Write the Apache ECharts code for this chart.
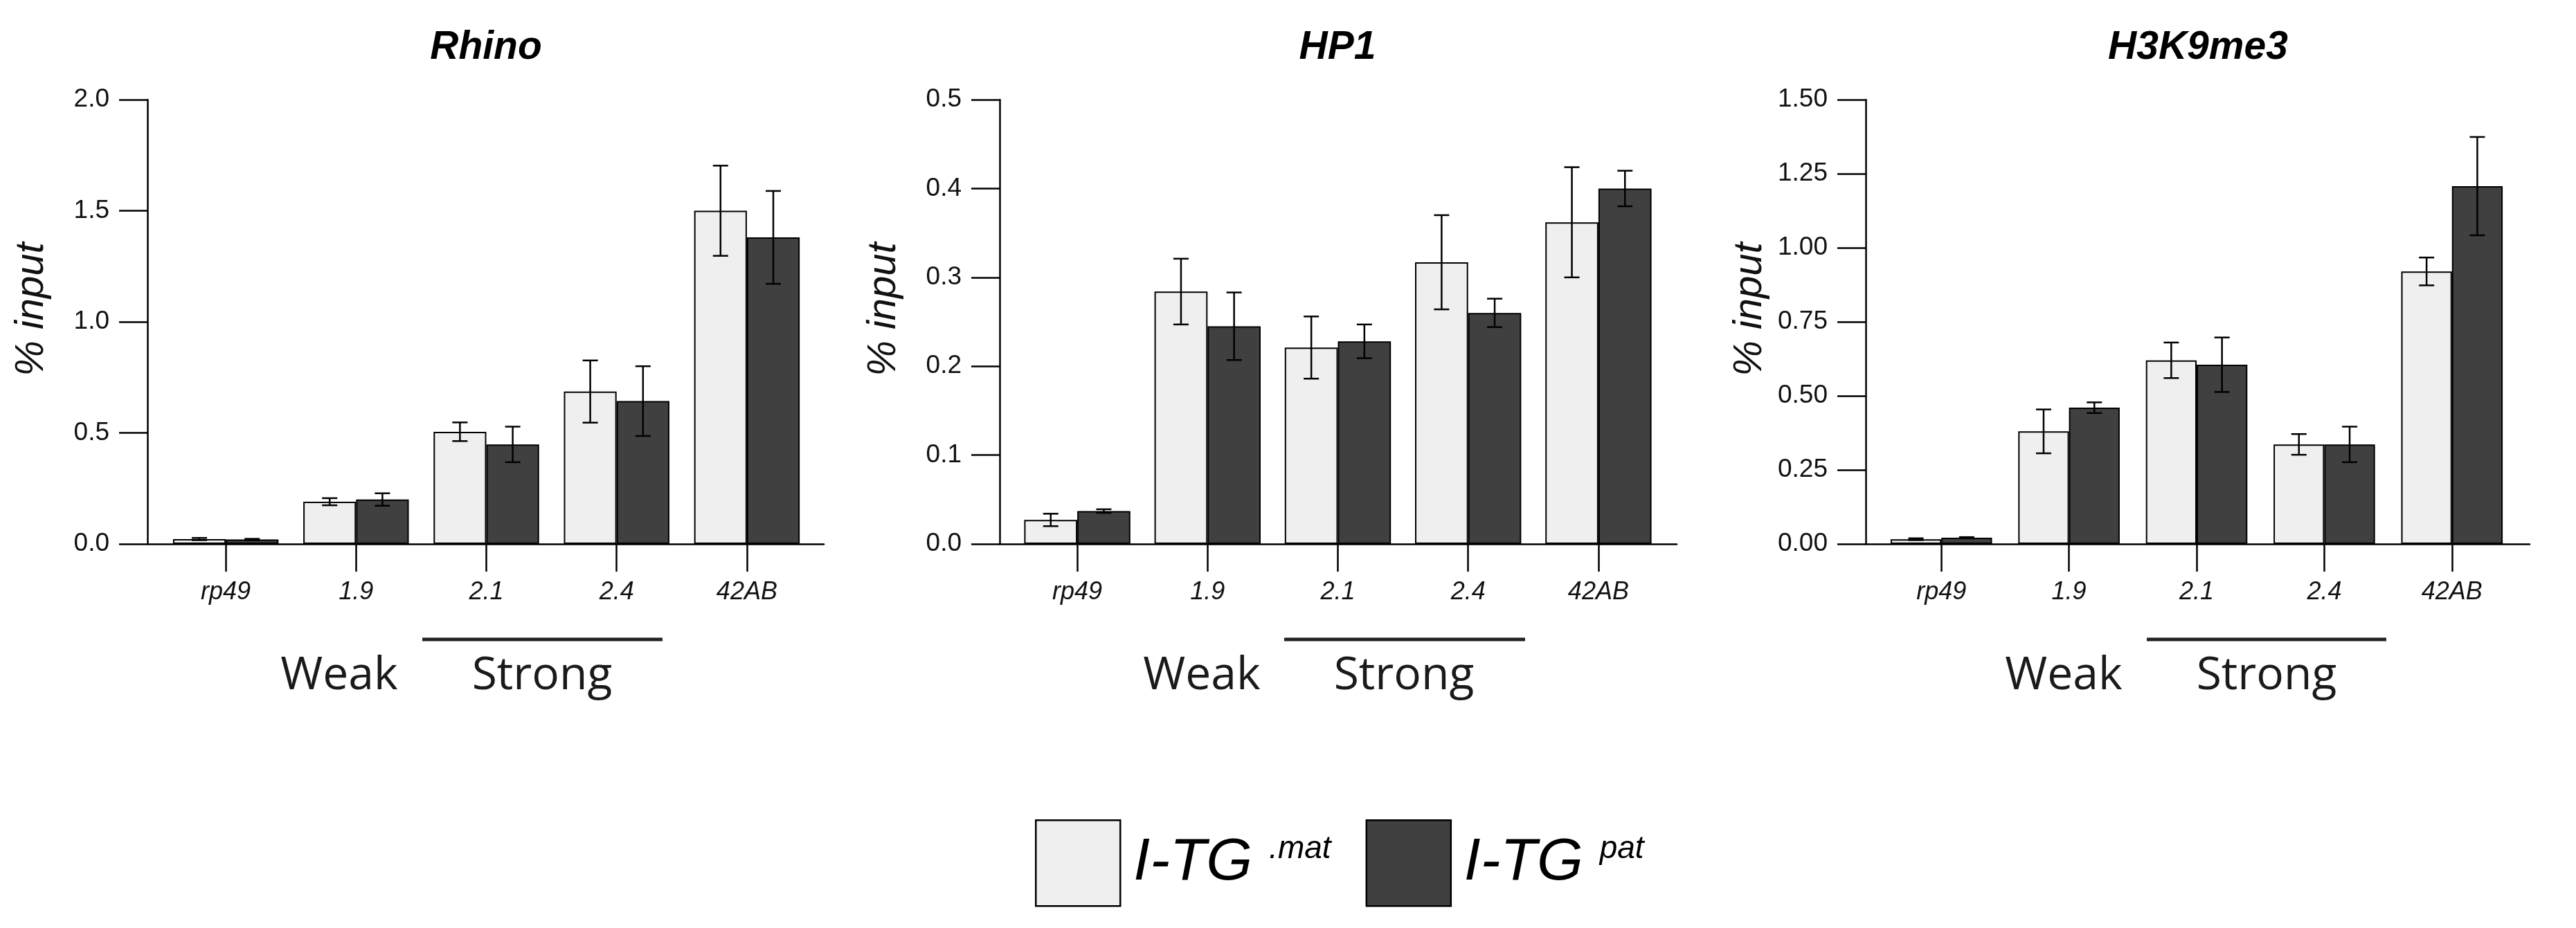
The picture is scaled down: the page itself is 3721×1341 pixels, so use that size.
<!DOCTYPE html>
<html>
<head>
<meta charset="utf-8">
<script src="https://cdn.jsdelivr.net/npm/echarts@6/dist/echarts.min.js"></script>
<style>
html, body { margin: 0; padding: 0; background: #fff; }
#main { width: 3721px; height: 1341px; }
</style>
</head>
<body>
<div id="main"></div>
<script>
// loci on the x axis
var categories = ['rp49', '1.9', '2.1', '2.4', '42AB'];

// Rhino ChIP
var rhinoMat = [0.022, 0.19, 0.505, 0.686, 1.50];
var rhinoMatErr = [0.005, 0.016, 0.042, 0.14, 0.203];
var rhinoPat = [0.020, 0.20, 0.448, 0.643, 1.38];
var rhinoPatErr = [0.003, 0.028, 0.08, 0.157, 0.209];

// HP1 ChIP
var hp1Mat = [0.027, 0.284, 0.221, 0.317, 0.362];
var hp1MatErr = [0.007, 0.037, 0.035, 0.053, 0.062];
var hp1Pat = [0.037, 0.245, 0.228, 0.260, 0.400];
var hp1PatErr = [0.002, 0.038, 0.019, 0.016, 0.020];

// H3K9me3 ChIP
var h3Mat = [0.016, 0.38, 0.62, 0.336, 0.92];
var h3MatErr = [0.003, 0.074, 0.06, 0.035, 0.047];
var h3Pat = [0.021, 0.46, 0.605, 0.336, 1.208];
var h3PatErr = [0.002, 0.018, 0.092, 0.06, 0.166];

var panelTitles = ['Rhino', 'HP1', 'H3K9me3'];
var yMax = [2.0, 0.5, 1.5];
var yStep = [0.5, 0.1, 0.25];
var yDigits = [1, 1, 2];

var MAT = '#efefef', PAT = '#404040', INK = '#111';
var FONT = 'Liberation Sans';

// pixel layout of each panel
var frames = [
    {left: 213, right: 1190, barLeft: 232, barRight: 1173, gap: 0.19, title: 702, weak: 490, strong: 783, line: [610, 957]},
    {left: 1444, right: 2422, barLeft: 1462, barRight: 2403, gap: 0.185, title: 1932, weak: 1736, strong: 2028, line: [1855, 2203]},
    {left: 2695, right: 3654, barLeft: 2712, barRight: 3634, gap: 0.205, title: 3175, weak: 2981, strong: 3274, line: [3101, 3447]}
];
var TOP = 144, BOTTOM = 786;

var panels = [
    [rhinoMat, rhinoMatErr, rhinoPat, rhinoPatErr],
    [hp1Mat, hp1MatErr, hp1Pat, hp1PatErr],
    [h3Mat, h3MatErr, h3Pat, h3PatErr]
];

var grid = [], xAxis = [], yAxis = [], series = [], graphic = [];

function errorBars(p, vals, errs, side, gap) {
    return {
        type: 'custom',
        name: 'err' + p + side,
        xAxisIndex: 2 * p + 1,
        yAxisIndex: 2 * p + 1,
        silent: true,
        z: 5,
        data: vals.map(function (v, i) { return [i, v - errs[i], v + errs[i]]; }),
        renderItem: function (params, api) {
            var band = api.size([1, 0])[0];
            var bw = band * (1 - gap) / 2;
            var lo = api.coord([api.value(0), api.value(1)]);
            var hi = api.coord([api.value(0), api.value(2)]);
            var x = lo[0] + (side === 0 ? -bw / 2 : bw / 2);
            var c = 11;
            var st = {stroke: '#000', lineWidth: 2.5};
            return {
                type: 'group',
                children: [
                    {type: 'line', shape: {x1: x, y1: lo[1], x2: x, y2: hi[1]}, style: st},
                    {type: 'line', shape: {x1: x - c, y1: hi[1], x2: x + c, y2: hi[1]}, style: st},
                    {type: 'line', shape: {x1: x - c, y1: lo[1], x2: x + c, y2: lo[1]}, style: st}
                ]
            };
        }
    };
}

frames.forEach(function (f, p) {
    // frame grid: y axis with ticks and the long baseline
    grid.push({left: f.left, width: f.right - f.left, top: TOP, height: BOTTOM - TOP});
    // bar grid
    grid.push({left: f.barLeft, width: f.barRight - f.barLeft, top: TOP, height: BOTTOM - TOP});

    xAxis.push({
        type: 'value', gridIndex: 2 * p, min: 0, max: 1,
        axisLine: {show: true, lineStyle: {color: '#000', width: 2.5}},
        axisTick: {show: false}, axisLabel: {show: false}, splitLine: {show: false}
    });
    xAxis.push({
        type: 'category', gridIndex: 2 * p + 1, data: categories,
        axisLine: {show: false},
        axisTick: {show: true, alignWithLabel: true, length: 40, lineStyle: {color: '#000', width: 2.5}},
        axisLabel: {fontFamily: FONT, fontStyle: 'italic', fontSize: 36, color: INK, margin: 52}
    });
    yAxis.push({
        type: 'value', gridIndex: 2 * p, min: 0, max: yMax[p], interval: yStep[p],
        axisLine: {show: true, lineStyle: {color: '#000', width: 2.5}},
        axisTick: {show: true, length: 41, lineStyle: {color: '#000', width: 2.5}},
        axisLabel: {
            fontFamily: FONT, fontSize: 37, color: INK, margin: 55,
            formatter: (function (d) { return function (v) { return v.toFixed(d); }; })(yDigits[p])
        },
        splitLine: {show: false},
        name: '% input', nameLocation: 'middle', nameGap: 138,
        nameTextStyle: {fontFamily: FONT, fontStyle: 'italic', fontSize: 58, color: INK, padding: [0, 0, 0, 36]}
    });
    yAxis.push({type: 'value', gridIndex: 2 * p + 1, min: 0, max: yMax[p], show: false});

    var d = panels[p];
    series.push({
        type: 'bar', name: 'mat', xAxisIndex: 2 * p + 1, yAxisIndex: 2 * p + 1,
        data: d[0], barGap: '0%', barCategoryGap: (f.gap * 100) + '%',
        itemStyle: {color: MAT, borderColor: '#000', borderWidth: 2}
    });
    series.push({
        type: 'bar', name: 'pat', xAxisIndex: 2 * p + 1, yAxisIndex: 2 * p + 1,
        data: d[2], barGap: '0%', barCategoryGap: (f.gap * 100) + '%',
        itemStyle: {color: PAT, borderColor: '#000', borderWidth: 2}
    });
    series.push(errorBars(p, d[0], d[1], 0, f.gap));
    series.push(errorBars(p, d[2], d[3], 1, f.gap));

    graphic.push({
        type: 'text', x: f.title, y: 69,
        style: {text: panelTitles[p], font: 'italic bold 57px "Liberation Sans"', fill: '#000',
                textAlign: 'center', textVerticalAlign: 'middle'}
    });
    graphic.push({
        type: 'text', x: f.weak, y: 977,
        style: {text: 'Weak', font: '66px "Open Sans"', fill: '#1a1a1a',
                textAlign: 'center', textVerticalAlign: 'middle'}
    });
    graphic.push({
        type: 'text', x: f.strong, y: 977,
        style: {text: 'Strong', font: '66px "Open Sans"', fill: '#1a1a1a',
                textAlign: 'center', textVerticalAlign: 'middle'}
    });
    graphic.push({
        type: 'line', shape: {x1: f.line[0], y1: 924, x2: f.line[1], y2: 924},
        style: {stroke: '#222', lineWidth: 5}
    });
});

var option = {
    backgroundColor: '#fff',
    animation: false,
    grid: grid,
    xAxis: xAxis,
    yAxis: yAxis,
    legend: {
        data: ['mat', 'pat'],
        left: 1490, top: 1179,
        icon: 'rect',
        itemWidth: 122, itemHeight: 124, itemGap: 50,
        itemStyle: {borderColor: '#000', borderWidth: 2.5},
        formatter: function (name) {
            return name === 'mat' ? '{a|I-TG }{s|.mat}' : '{a|I-TG }{s|pat}';
        },
        textStyle: {
            padding: [0, 0, 0, 14],
            rich: {
                a: {fontFamily: FONT, fontStyle: 'italic', fontSize: 86, color: '#000'},
                s: {fontFamily: FONT, fontStyle: 'italic', fontSize: 46, color: '#000', verticalAlign: 'top'}
            }
        }
    },
    graphic: graphic,
    series: series
};

var chart = echarts.init(document.getElementById('main'));
chart.setOption(option);
</script>
</body>
</html>
